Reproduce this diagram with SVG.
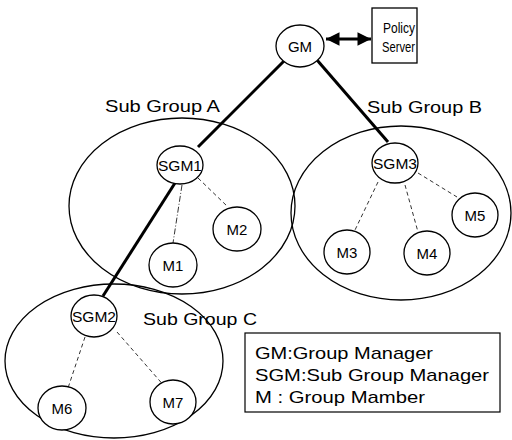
<svg xmlns="http://www.w3.org/2000/svg" width="512" height="440" viewBox="0 0 512 440">
<defs>
<style>
text{font-family:"Liberation Sans",Arial,sans-serif;fill:#000}
.grp{fill:none;stroke:#000;stroke-width:1.3}
.node{fill:#fff;stroke:#000;stroke-width:1.3}
.lbl{font-size:15px;text-anchor:middle}
.big{font-size:17px}
.leg{font-size:17px}
.thick{stroke:#000;stroke-width:3;fill:none}
.dash{stroke:#000;stroke-width:0.8;fill:none;stroke-dasharray:4 3}
.dashdot{stroke:#000;stroke-width:0.8;fill:none;stroke-dasharray:6 2 1 2}
</style>
<marker id="ah" viewBox="0 0 10 10" refX="10" refY="5" markerWidth="5.5" markerHeight="4.5" orient="auto-start-reverse" markerUnits="strokeWidth">
<path d="M0,0 L10,5 L0,10 z" fill="#000"/>
</marker>
</defs>
<rect width="512" height="440" fill="#fff"/>
<g id="groups">
<ellipse class="grp" cx="182" cy="206" rx="113" ry="88"/>
<ellipse class="grp" cx="401" cy="213" rx="110" ry="87"/>
<ellipse class="grp" cx="114" cy="361" rx="109" ry="77"/>
<text class="big" x="105" y="112" textLength="115" lengthAdjust="spacingAndGlyphs">Sub Group A</text>
<text class="big" x="367" y="113" textLength="115" lengthAdjust="spacingAndGlyphs">Sub Group B</text>
<text class="big" x="143" y="325" textLength="114" lengthAdjust="spacingAndGlyphs">Sub Group C</text>
</g>
<g id="connectors">
<line class="thick" x1="285" y1="60" x2="198" y2="147"/>
<line class="thick" x1="175" y1="183" x2="103" y2="296"/>
<line class="thick" x1="317" y1="60" x2="388" y2="142"/>
<line x1="326" y1="39" x2="371" y2="39" stroke="#000" stroke-width="3" marker-start="url(#ah)" marker-end="url(#ah)"/>
<line class="dashdot" x1="182" y1="185" x2="173" y2="243"/>
<line class="dash" x1="198" y1="178" x2="228" y2="207"/>
<line class="dash" x1="378" y1="182" x2="355" y2="230"/>
<line class="dash" x1="405" y1="185" x2="418" y2="232"/>
<line class="dash" x1="418" y1="173" x2="457" y2="197"/>
<line class="dash" x1="85" y1="337" x2="68" y2="388"/>
<line class="dash" x1="117" y1="332" x2="166" y2="388"/>
</g>
<g id="policy-server">
<rect x="372" y="8" width="45" height="55" fill="#fff" stroke="#000" stroke-width="1.3"/>
<text x="383" y="33" font-size="15" textLength="32" lengthAdjust="spacingAndGlyphs">Policy</text>
<text x="382" y="52" font-size="15" textLength="33" lengthAdjust="spacingAndGlyphs">Server</text>
</g>
<g id="GM"><ellipse class="node" cx="300" cy="46" rx="24" ry="21"/><text class="lbl" x="300" y="52" font-size="16">GM</text></g>
<g id="SGM1"><ellipse class="node" cx="180" cy="165" rx="23" ry="19"/><text class="lbl" x="180" y="171" textLength="44" lengthAdjust="spacingAndGlyphs">SGM1</text></g>
<g id="SGM3"><ellipse class="node" cx="395" cy="163" rx="23" ry="20"/><text class="lbl" x="395" y="169" textLength="44" lengthAdjust="spacingAndGlyphs">SGM3</text></g>
<g id="SGM2"><ellipse class="node" cx="94" cy="316" rx="23" ry="21"/><text class="lbl" x="94" y="322" textLength="44" lengthAdjust="spacingAndGlyphs">SGM2</text></g>
<g id="M1"><ellipse class="node" cx="173" cy="265" rx="24" ry="22"/><text class="lbl" x="173" y="271">M1</text></g>
<g id="M2"><ellipse class="node" cx="237" cy="229" rx="24" ry="22"/><text class="lbl" x="237" y="235">M2</text></g>
<g id="M3"><ellipse class="node" cx="347" cy="252" rx="23" ry="22"/><text class="lbl" x="347" y="258">M3</text></g>
<g id="M4"><ellipse class="node" cx="427" cy="253" rx="23" ry="22"/><text class="lbl" x="427" y="259">M4</text></g>
<g id="M5"><ellipse class="node" cx="475" cy="215" rx="23" ry="22"/><text class="lbl" x="475" y="221">M5</text></g>
<g id="M6"><ellipse class="node" cx="62" cy="408" rx="24" ry="22"/><text class="lbl" x="62" y="414">M6</text></g>
<g id="M7"><ellipse class="node" cx="173" cy="402" rx="23" ry="22"/><text class="lbl" x="173" y="408">M7</text></g>
<g id="legend">
<rect x="245" y="333" width="255" height="79" fill="#fff" stroke="#000" stroke-width="1.2"/>
<text class="leg" x="255" y="359" textLength="178" lengthAdjust="spacingAndGlyphs">GM:Group Manager</text>
<text class="leg" x="255" y="381" textLength="234" lengthAdjust="spacingAndGlyphs">SGM:Sub Group Manager</text>
<text class="leg" x="255" y="403" textLength="170" lengthAdjust="spacingAndGlyphs">M : Group Mamber</text>
</g>
</svg>
